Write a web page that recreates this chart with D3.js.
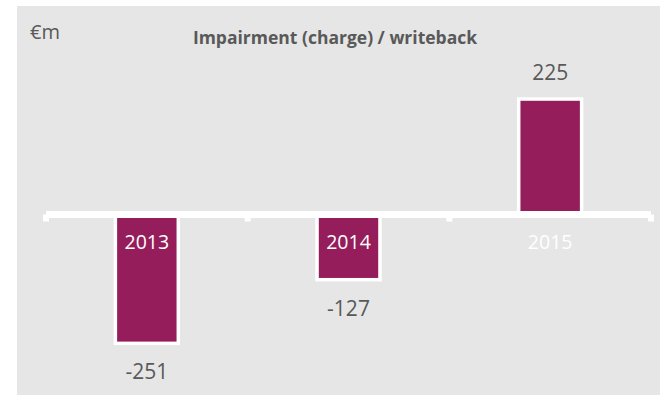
<!DOCTYPE html>
<html>
<head>
<meta charset="utf-8">
<script src="https://cdn.jsdelivr.net/npm/d3@7"></script>
<style>
  html, body { margin: 0; padding: 0; background: #ffffff; }
  svg { display: block; }
  text { font-family: "Open Sans", "Noto Sans", sans-serif; }
</style>
</head>
<body>
<script>
// Impairment (charge) / writeback, €m
const years = ["2013", "2014", "2015"];
const values = [-251, -127, 225];
const unitLabel = "€m";
const chartTitle = "Impairment (charge) / writeback";

const W = 660, H = 395;
const svg = d3.select("body").append("svg").attr("width", W).attr("height", H);

// grey panel
svg.append("rect").attr("x", 17).attr("y", 6).attr("width", W - 17).attr("height", H - 6)
  .attr("fill", "#e6e6e6");

const x = d3.scaleBand().domain(years).range([46, 651])
  .paddingInner(0.688).paddingOuter(0.344);
const y = d3.scaleLinear().domain([-300, 250]).range([368.5, 86.2]);
const y0 = y(0);

const purple = "#951d5b";
const textGrey = "#595959";

// bars
svg.append("g").selectAll("rect").data(values).join("rect")
  .attr("x", (d, i) => x(years[i]))
  .attr("width", x.bandwidth())
  .attr("y", d => Math.min(y(d), y0))
  .attr("height", d => Math.abs(y(d) - y0))
  .attr("fill", purple)
  .attr("stroke", "#ffffff")
  .attr("stroke-width", 3.5);

// category axis along zero
const axis = svg.append("g");
axis.append("line")
  .attr("x1", x.range()[0]).attr("x2", x.range()[1])
  .attr("y1", y0).attr("y2", y0)
  .attr("stroke", "#ffffff").attr("stroke-width", 7);
const tickPos = [x.range()[0]].concat(years.map(c => x(c) + x.bandwidth() / 2 + x.step() / 2));
axis.selectAll("line.tick").data(tickPos).join("line")
  .attr("class", "tick")
  .attr("x1", d => d).attr("x2", d => d)
  .attr("y1", y0).attr("y2", y0 + 7)
  .attr("stroke", "#ffffff").attr("stroke-width", 6);

// year labels just below the axis
svg.append("g").selectAll("text").data(years).join("text")
  .attr("x", d => x(d) + x.bandwidth() / 2)
  .attr("y", y0 + 34)
  .attr("text-anchor", "middle")
  .attr("font-size", 19.5)
  .attr("fill", "#ffffff")
  .text(d => d);

// value labels
svg.append("g").selectAll("text").data(values).join("text")
  .attr("x", (d, i) => x(years[i]) + x.bandwidth() / 2)
  .attr("y", d => d >= 0 ? y(d) - 19 : y(d) + 36)
  .attr("text-anchor", "middle")
  .attr("font-size", 21)
  .attr("fill", textGrey)
  .text(d => d);

// unit and title
svg.append("text").attr("x", 30).attr("y", 39)
  .attr("font-size", 20).attr("fill", textGrey).text(unitLabel);
svg.append("text").attr("x", 335).attr("y", 44)
  .attr("text-anchor", "middle")
  .attr("font-size", 17.5).attr("font-weight", "bold").attr("fill", textGrey)
  .text(chartTitle);
</script>
</body>
</html>
